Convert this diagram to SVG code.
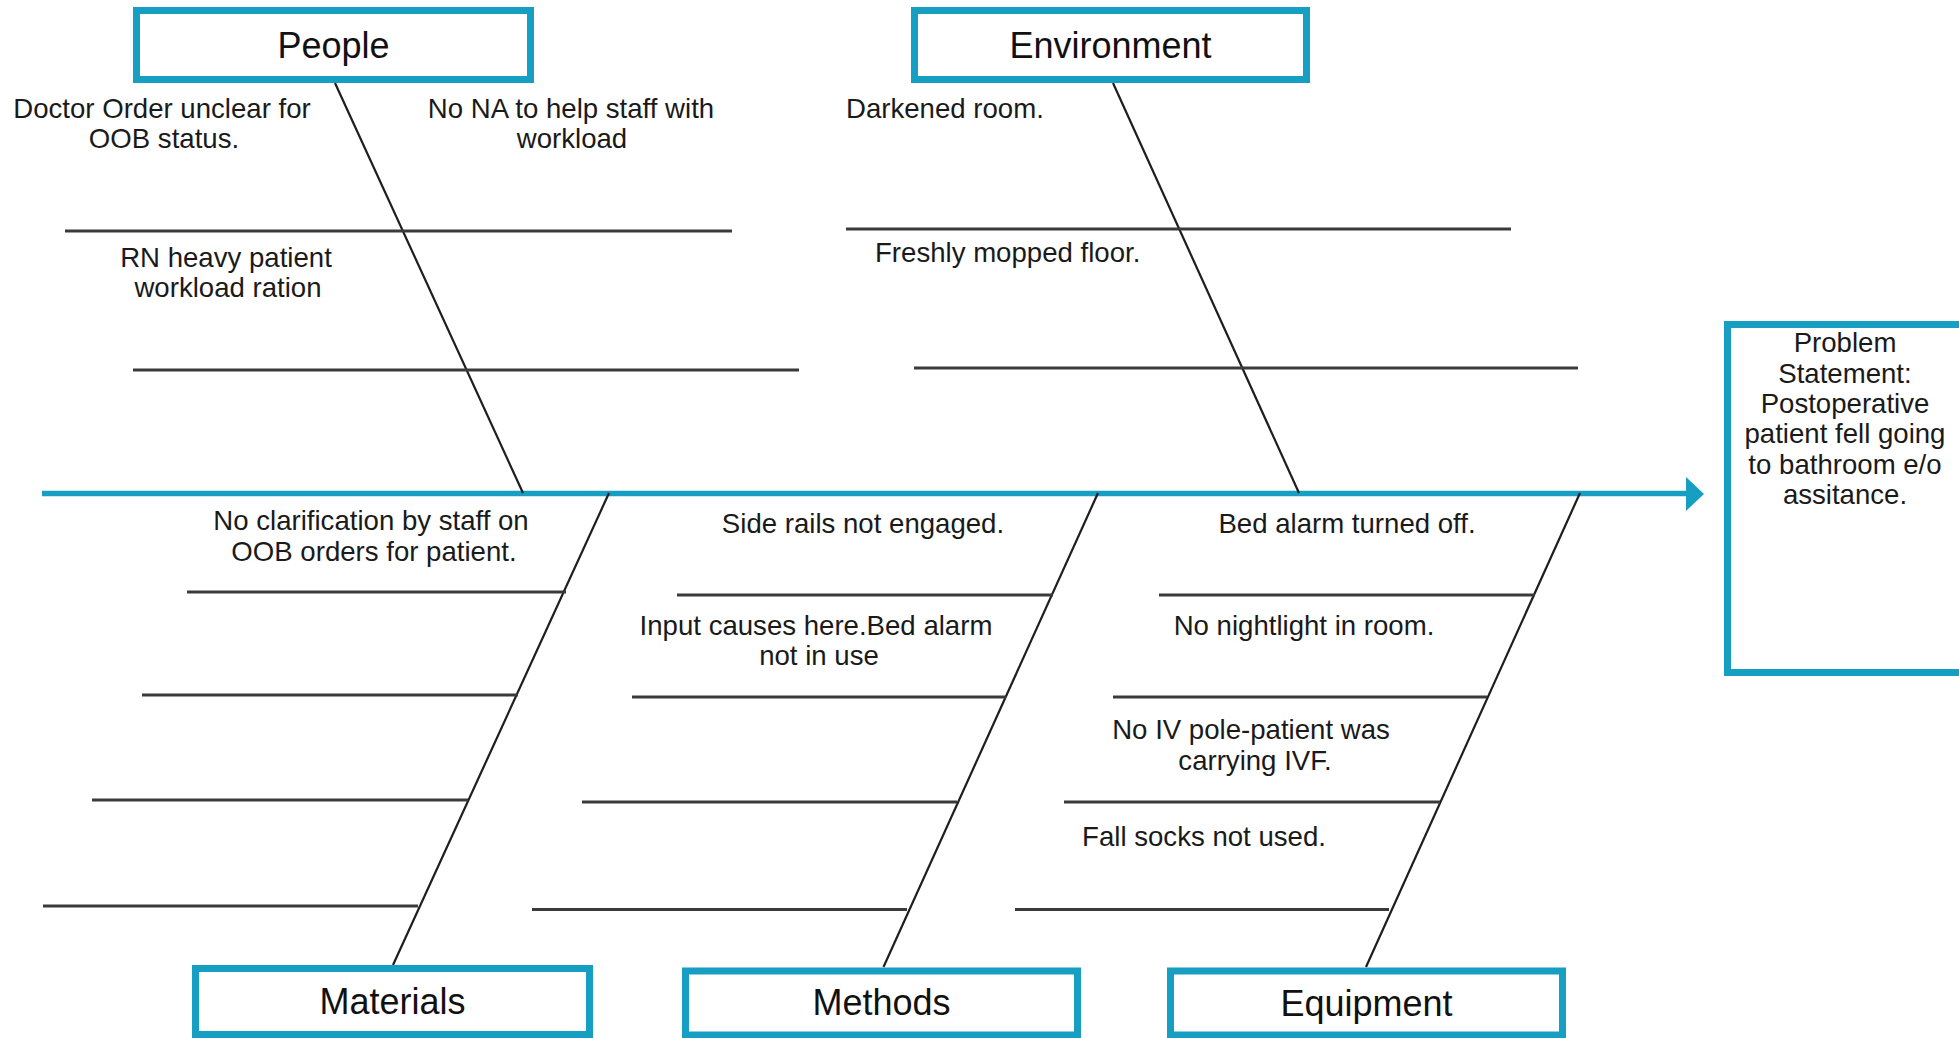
<svg xmlns="http://www.w3.org/2000/svg" width="1959" height="1038" viewBox="0 0 1959 1038">
<style>
.box{fill:#fff;stroke:#169fc3;stroke-width:7}
.cat{font-family:"Liberation Sans",Arial,sans-serif;font-size:36px;fill:#111;text-anchor:middle}
.t{font-family:"Liberation Sans",Arial,sans-serif;font-size:27.6px;fill:#1a1a1a;text-anchor:middle}
.ts{font-family:"Liberation Sans",Arial,sans-serif;font-size:27.6px;fill:#1a1a1a;text-anchor:start}
.bone{stroke:#1e1e1e;stroke-width:2.2;fill:none}
.rib{stroke:#3a3a3a;stroke-width:3;fill:none}
.spine{stroke:#169fc3;stroke-width:5.5;fill:none}
</style>
<rect width="1959" height="1038" fill="#fff"/>
<g id="connectors">
<line class="spine" x1="42" y1="493.5" x2="1690" y2="493.5"/>
<polygon points="1686,477 1704,494 1686,511" fill="#169fc3"/>
<line class="bone" x1="335" y1="83" x2="523" y2="493"/>
<line class="bone" x1="1113" y1="83" x2="1299" y2="493"/>
<line class="bone" x1="609" y1="493" x2="393" y2="965"/>
<line class="bone" x1="1098" y1="493" x2="883.5" y2="967"/>
<line class="bone" x1="1580" y1="493" x2="1366" y2="967"/>
<line class="rib" x1="65" y1="231" x2="732" y2="231"/>
<line class="rib" x1="133" y1="370" x2="799" y2="370"/>
<line class="rib" x1="846" y1="229" x2="1511" y2="229"/>
<line class="rib" x1="914" y1="368" x2="1578" y2="368"/>
<line class="rib" x1="187" y1="592" x2="566" y2="592"/>
<line class="rib" x1="142" y1="695" x2="518" y2="695"/>
<line class="rib" x1="92" y1="800" x2="468" y2="800"/>
<line class="rib" x1="43" y1="906" x2="418" y2="906"/>
<line class="rib" x1="677" y1="595" x2="1053" y2="595"/>
<line class="rib" x1="632" y1="697" x2="1006" y2="697"/>
<line class="rib" x1="582" y1="802" x2="957" y2="802"/>
<line class="rib" x1="532" y1="909.5" x2="907" y2="909.5"/>
<line class="rib" x1="1159" y1="595" x2="1535" y2="595"/>
<line class="rib" x1="1113" y1="697" x2="1487" y2="697"/>
<line class="rib" x1="1064" y1="802" x2="1440" y2="802"/>
<line class="rib" x1="1015" y1="909.5" x2="1389" y2="909.5"/>
</g>
<g id="people">
<rect class="box" x="136.5" y="10.5" width="394" height="69"/>
<text class="cat" x="333.5" y="58">People</text>
<text class="t" x="162" y="118">Doctor Order unclear for<tspan x="164" y="148">OOB status.</tspan></text>
<text class="t" x="571" y="118">No NA to help staff with<tspan x="572" y="148">workload</tspan></text>
<text class="t" x="226" y="267">RN heavy patient<tspan x="228" y="297">workload ration</tspan></text>
</g>
<g id="environment">
<rect class="box" x="914.5" y="10.5" width="392" height="69"/>
<text class="cat" x="1110.5" y="58">Environment</text>
<text class="ts" x="846" y="118">Darkened room.</text>
<text class="ts" x="875" y="262">Freshly mopped floor.</text>
</g>
<g id="materials">
<rect class="box" x="195.5" y="968.5" width="394" height="66"/>
<text class="cat" x="392.5" y="1014">Materials</text>
<text class="t" x="371" y="530">No clarification by staff on<tspan x="374" y="561">OOB orders for patient.</tspan></text>
</g>
<g id="methods">
<rect class="box" x="685.5" y="971" width="392" height="64"/>
<text class="cat" x="881.5" y="1015">Methods</text>
<text class="t" x="863" y="533">Side rails not engaged.</text>
<text class="t" x="816" y="635">Input causes here.Bed alarm<tspan x="819" y="665">not in use</tspan></text>
</g>
<g id="equipment">
<rect class="box" x="1170.5" y="971" width="392" height="64"/>
<text class="cat" x="1366.5" y="1016">Equipment</text>
<text class="t" x="1347" y="533">Bed alarm turned off.</text>
<text class="t" x="1304" y="635">No nightlight in room.</text>
<text class="t" x="1251" y="739">No IV pole-patient was<tspan x="1255" y="770">carrying IVF.</tspan></text>
<text class="t" x="1204" y="846">Fall socks not used.</text>
</g>
<g id="problem">
<rect class="box" x="1727.5" y="324.5" width="240" height="348"/>
<text class="t" x="1845" y="352">Problem<tspan x="1845" y="382.5">Statement:</tspan><tspan x="1845" y="413">Postoperative</tspan><tspan x="1845" y="443">patient fell going</tspan><tspan x="1845" y="473.5">to bathroom e/o</tspan><tspan x="1845" y="504">assitance.</tspan></text>
</g>
</svg>
